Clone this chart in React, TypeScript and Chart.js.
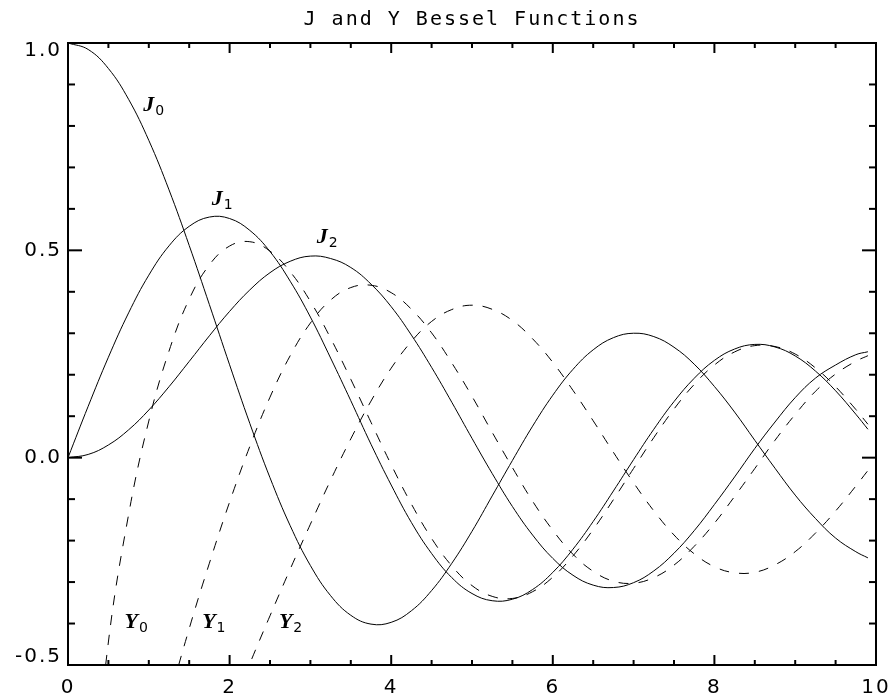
import React, { useEffect, useRef } from 'react';
import { Chart, registerables } from 'chart.js';

Chart.register(...registerables);

// Sample positions (x) shared by every curve
const xValues = [
  0, 0.25, 0.5, 0.75, 1, 1.25, 1.5, 1.75, 2, 2.25, 2.5, 2.75, 3, 3.25, 3.5, 3.75,
  4, 4.25, 4.5, 4.75, 5, 5.25, 5.5, 5.75, 6, 6.25, 6.5, 6.75, 7, 7.25, 7.5, 7.75,
  8, 8.25, 8.5, 8.75, 9, 9.25, 9.5, 9.75, 9.9,
];

// Solid curves
const j0Values = [
  1.0, 0.9844, 0.9385, 0.8642, 0.7652, 0.6459, 0.5118, 0.369, 0.2239, 0.0827, -0.0484, -0.1641,
  -0.2601, -0.3328, -0.3801, -0.4014, -0.3971, -0.3692, -0.3205, -0.2548, -0.1776, -0.0922,
  -0.0068, 0.076, 0.1506, 0.213, 0.2601, 0.2894, 0.3001, 0.292, 0.2663, 0.2255, 0.1717, 0.11,
  0.0419, -0.0255, -0.0903, -0.1465, -0.1939, -0.2268, -0.2416,
];
const j1Values = [
  0, 0.124, 0.2423, 0.3492, 0.4401, 0.5108, 0.5579, 0.5803, 0.5767, 0.5481, 0.4971, 0.4255,
  0.3391, 0.2403, 0.1374, 0.0323, -0.066, -0.1563, -0.2311, -0.2893, -0.3276, -0.345, -0.3414,
  -0.318, -0.2767, -0.2206, -0.1538, -0.0803, -0.0047, 0.0685, 0.1352, 0.1914, 0.2346, 0.262,
  0.2731, 0.267, 0.2453, 0.209, 0.1613, 0.1048, 0.0685,
];
const j2Values = [
  0, 0.0078, 0.0306, 0.0671, 0.1149, 0.1711, 0.2321, 0.2939, 0.3528, 0.4045, 0.4461, 0.4736,
  0.4861, 0.4803, 0.4586, 0.4186, 0.3641, 0.2956, 0.2178, 0.1336, 0.0466, -0.0382, -0.1177,
  -0.1866, -0.2429, -0.2836, -0.3074, -0.3132, -0.3014, -0.2731, -0.2304, -0.1761, -0.113,
  -0.0465, 0.0222, 0.086, 0.1448, 0.1917, 0.2235, 0.2483, 0.2554,
];

// Dashed curves (null = not drawn)
const y0Values = [
  null, -0.9316, -0.4445, -0.1372, 0.0883, 0.257, 0.3824, 0.465, 0.5104, 0.5208, 0.4981, 0.4483,
  0.3769, 0.2882, 0.189, 0.0853, -0.0169, -0.1118, -0.1947, -0.261, -0.3085, -0.3345, -0.3395,
  -0.3232, -0.2882, -0.2368, -0.1732, -0.1013, -0.0259, 0.0484, 0.1173, 0.1766, 0.2235, 0.255,
  0.2702, 0.268, 0.2499, 0.2166, 0.1712, 0.1163, 0.0806,
];
const y1Values = [
  null, null, null, null, -0.7812, -0.586, -0.4123, -0.2544, -0.107, 0.027, 0.1459, 0.246,
  0.3247, 0.3801, 0.4102, 0.4158, 0.3979, 0.358, 0.301, 0.2285, 0.1479, 0.0611, -0.0238, -0.105,
  -0.175, -0.2331, -0.2741, -0.2979, -0.3027, -0.2892, -0.2591, -0.2138, -0.1581, -0.0934,
  -0.0262, 0.0419, 0.1043, 0.1599, 0.2017, 0.2325, 0.2459,
];
const y2Values = [
  null, null, null, null, null, null, null, -0.7564, -0.6174, -0.4968, -0.3813, -0.2687,
  -0.1604, -0.0543, 0.0454, 0.1365, 0.2159, 0.2803, 0.3285, 0.3572, 0.3677, 0.3578, 0.3308,
  0.2867, 0.2299, 0.1622, 0.0889, 0.013, -0.0606, -0.1282, -0.1864, -0.2318, -0.263, -0.2776,
  -0.2764, -0.2584, -0.2267, -0.182, -0.1287, -0.0686, -0.0309,
];

const seriesNames = ['J0', 'J1', 'J2', 'Y0', 'Y1', 'Y2'];

// Axis setup
const xMin = 0;
const xMax = 10;
const xMajorStep = 2;
const xMinorStep = 0.5;
const yMin = -0.5;
const yMax = 1.0;
const yMajorStep = 0.5;
const yMinorStep = 0.1;

const titleText = 'J and Y Bessel Functions';

// In-plot curve labels (letter + subscript), anchored in data coordinates
const labelLetters = ['J', 'J', 'J', 'Y', 'Y', 'Y'];
const labelSubs = ['0', '1', '2', '0', '1', '2'];
const labelAtX = [0.93, 1.78, 3.08, 0.7, 1.66, 2.61];
const labelAtY = [0.835, 0.609, 0.517, -0.411, -0.411, -0.411];

export default function App() {
  const ref = useRef<HTMLCanvasElement>(null);

  useEffect(() => {
    const canvas = ref.current;
    if (!canvas) return;

    const all = [j0Values, j1Values, j2Values, y0Values, y1Values, y2Values];
    const datasets = all.map((vals, si) => ({
      label: seriesNames[si],
      data: xValues.map((x, i) => ({ x, y: vals[i] })),
      borderColor: '#000',
      backgroundColor: '#000',
      borderWidth: 1,
      borderDash: si >= 3 ? [10, 10] : [],
      pointRadius: 0,
      pointHoverRadius: 0,
      tension: 0.4,
      fill: false,
      spanGaps: false,
    }));

    const idlPlugin = {
      id: 'idlFrame',
      beforeDraw(chart: any) {
        chart.ctx.letterSpacing = '2px';
      },
      afterDraw(chart: any) {
        const ctx = chart.ctx;
        const a = chart.chartArea;
        const xs = chart.scales.x;
        const ys = chart.scales.y;
        ctx.save();
        ctx.letterSpacing = '0px';
        ctx.strokeStyle = '#000';
        ctx.lineWidth = 2;
        ctx.setLineDash([]);
        ctx.strokeRect(a.left, a.top, a.right - a.left, a.bottom - a.top);
        const seg = (x1: number, y1: number, x2: number, y2: number) => {
          ctx.beginPath();
          ctx.moveTo(x1, y1);
          ctx.lineTo(x2, y2);
          ctx.stroke();
        };
        const nx = Math.round((xMax - xMin) / xMinorStep);
        const perX = Math.round(xMajorStep / xMinorStep);
        for (let k = 0; k <= nx; k++) {
          const v = xMin + k * xMinorStep;
          const px = xs.getPixelForValue(v);
          const len = k % perX === 0 ? 10 : 5;
          seg(px, a.bottom, px, a.bottom - len);
          seg(px, a.top, px, a.top + len);
        }
        const ny = Math.round((yMax - yMin) / yMinorStep);
        const perY = Math.round(yMajorStep / yMinorStep);
        for (let k = 0; k <= ny; k++) {
          const v = yMin + k * yMinorStep;
          const py = ys.getPixelForValue(v);
          const len = k % perY === 0 ? 14 : 7;
          seg(a.left, py, a.left + len, py);
          seg(a.right, py, a.right - len, py);
        }
        ctx.fillStyle = '#000';
        ctx.textAlign = 'left';
        ctx.textBaseline = 'alphabetic';
        for (let i = 0; i < labelLetters.length; i++) {
          const px = xs.getPixelForValue(labelAtX[i]);
          const py = ys.getPixelForValue(labelAtY[i]);
          ctx.font = 'italic bold 22px "Liberation Serif"';
          ctx.fillText(labelLetters[i], px, py);
          const w = ctx.measureText(labelLetters[i]).width;
          ctx.font = '14px "DejaVu Sans"';
          ctx.fillText(labelSubs[i], px + w + 1, py + 4);
        }
        ctx.restore();
        ctx.letterSpacing = '0px';
      },
    };

    const chart = new Chart(canvas, {
      type: 'line',
      data: { datasets },
      options: {
        animation: false,
        responsive: false,
        maintainAspectRatio: false,
        events: [],
        layout: { padding: { left: 0, right: 15, top: 0, bottom: 0 } },
        plugins: {
          legend: { display: false },
          tooltip: { enabled: false },
          title: {
            display: true,
            text: titleText,
            fullSize: false,
            color: '#000',
            font: { family: '"DejaVu Sans Mono"', size: 20, weight: 'normal', lineHeight: 1.2 },
            padding: { top: 8, bottom: 11 },
          },
        },
        scales: {
          x: {
            type: 'linear',
            min: xMin,
            max: xMax,
            afterFit: (s: any) => {
              s.height = 31;
              s.paddingLeft = 0;
              s.paddingRight = 15;
            },
            grid: { display: false, drawTicks: false },
            border: { display: false },
            ticks: {
              stepSize: xMajorStep,
              color: '#000',
              autoSkip: false,
              maxRotation: 0,
              padding: 11,
              font: { family: '"DejaVu Sans"', size: 20 },
              callback: (v: any) => String(v),
            },
          },
          y: {
            type: 'linear',
            min: yMin,
            max: yMax,
            afterFit: (s: any) => {
              s.width = 68;
            },
            grid: { display: false, drawTicks: false },
            border: { display: false },
            ticks: {
              stepSize: yMajorStep,
              color: '#000',
              padding: 6,
              font: { family: '"DejaVu Sans"', size: 20, lineHeight: 0.8 },
              callback: (v: any) => {
                const n = Number(v);
                const s = n.toFixed(1);
                if (Math.abs(n - yMax) < 1e-9) return ['', s];
                if (Math.abs(n - yMin) < 1e-9) return [s, ''];
                return s;
              },
            },
          },
        },
      },
      plugins: [idlPlugin],
    } as any);

    return () => chart.destroy();
  }, []);

  return (
    <div style={{ position: 'fixed', left: 0, top: 0, width: 891, height: 696, background: '#fff' }}>
      <canvas ref={ref} width={891} height={696} style={{ display: 'block', width: 891, height: 696 }} />
    </div>
  );
}
